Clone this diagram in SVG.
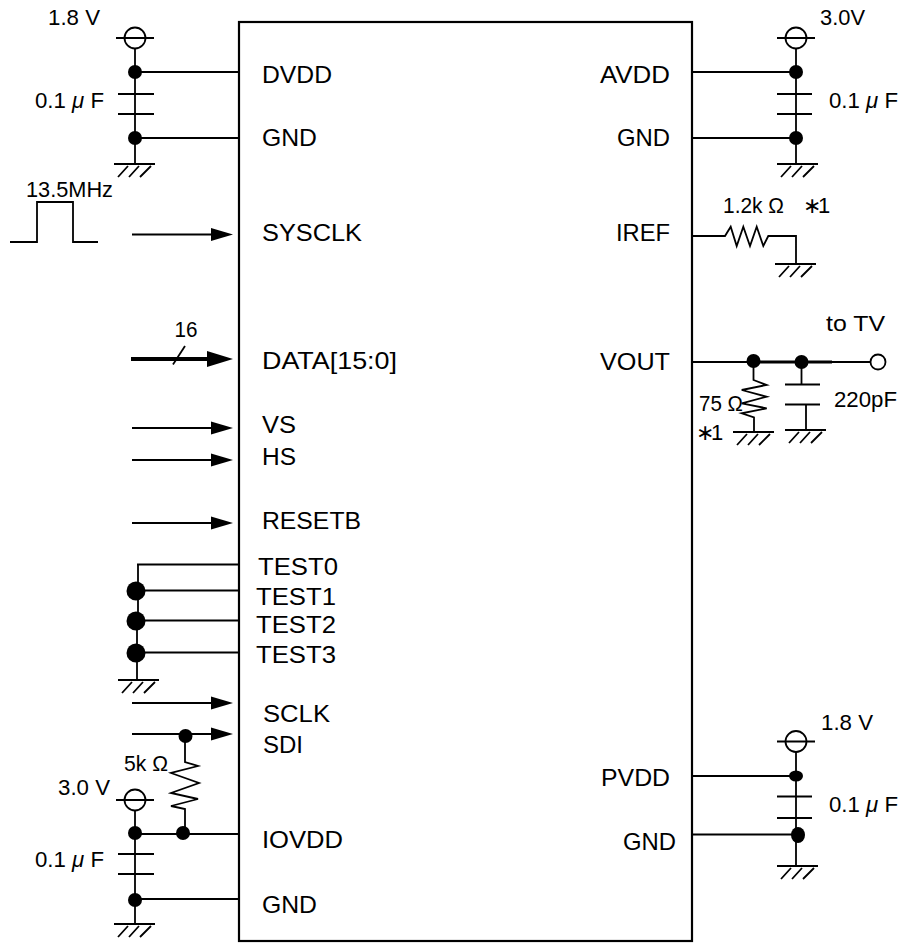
<svg xmlns="http://www.w3.org/2000/svg" width="901" height="943" viewBox="0 0 901 943">
<style>
text{font-family:"Liberation Sans",Arial,sans-serif;fill:#000}
.pin{font-size:24.5px}
.val{font-size:22px}
.star{letter-spacing:-3px}
.w{fill:none;stroke:#000;stroke-width:1.8}
.dot{fill:#000}
.o{fill:#fff;stroke:#000;stroke-width:1.8}
</style>
<defs>
<g id="gnd" class="w"><path d="M-21 0H20M-7 2L-17 13M4 2L-6 13M16 2L5 13"/></g>
<g id="vcc"><circle r="10.5" class="o"/><path class="w" d="M-19 0H19"/></g>
<marker id="ah" markerUnits="userSpaceOnUse" markerWidth="24" markerHeight="16" refX="1" refY="7.5" orient="auto"><path d="M0 1L22 7.5L0 14Z"/></marker>
<marker id="ahb" markerUnits="userSpaceOnUse" markerWidth="28" markerHeight="18" refX="1" refY="8.5" orient="auto"><path d="M0 0.500L26 8.500L0 16.500Z"/></marker>
</defs>
<g id="connectors">
<path class="w" d="M135 48V164M135 72H239M135 138H239"/>
<path class="w" d="M796 48V164M692 72H796M692 138H796"/>
<path class="w" d="M692 236H725L730.7 226.7L736.7 246L743.3 226.7L750 246L756.7 226.7L763.3 246L768.3 236H796V264"/>
<path class="w" d="M692 362H870"/>
<path class="w" style="stroke-width:3" d="M753 362H832"/>
<path class="w" d="M753.500 362V380L766.700 385L741.700 390L766.700 396.700L741.700 403.300L766.700 408.300L741.700 413.300L754 417.300V432"/>
<path class="w" d="M801.500 362V384M806 405V430"/>
<path class="w" d="M132 234.500H212" marker-end="url(#ah)"/>
<path class="w" style="stroke-width:4" d="M131 359H208" marker-end="url(#ahb)"/>
<path class="w" d="M173 364.500L185 346"/>
<path class="w" d="M132 428H212" marker-end="url(#ah)"/>
<path class="w" d="M132 460H212" marker-end="url(#ah)"/>
<path class="w" d="M132 523H212" marker-end="url(#ah)"/>
<path class="w" d="M132 703H212" marker-end="url(#ah)"/>
<path class="w" d="M132 734H212" marker-end="url(#ah)"/>
<path class="w" d="M137 564.500H239M138 564.500V620M137 620V680M145 590.500H239M145 620.500H239M145 652.500H239"/>
<path class="w" d="M185 736V762L198 766L171 773L199 783L171 793L198 799L171 806L185 809V833"/>
<path class="w" d="M135 810V924M135 834H239M135 899H239"/>
<path class="w" d="M796 752V866M692 776H796M692 834.500H796"/>
<path class="w" d="M10 242H37V202H73V242H98"/>
</g>
<g id="chip">
<rect x="239" y="22" width="453" height="919" fill="none" stroke="#000" stroke-width="2.200"/>
<text class="pin" x="262" y="83" textLength="70" lengthAdjust="spacingAndGlyphs">DVDD</text>
<text class="pin" x="262" y="146" textLength="55" lengthAdjust="spacingAndGlyphs">GND</text>
<text class="pin" x="262" y="241" textLength="100" lengthAdjust="spacingAndGlyphs">SYSCLK</text>
<text class="pin" x="262" y="369" textLength="135" lengthAdjust="spacingAndGlyphs">DATA[15:0]</text>
<text class="pin" x="262" y="433" textLength="34" lengthAdjust="spacingAndGlyphs">VS</text>
<text class="pin" x="262" y="465" textLength="34" lengthAdjust="spacingAndGlyphs">HS</text>
<text class="pin" x="262" y="529" textLength="99" lengthAdjust="spacingAndGlyphs">RESETB</text>
<text class="pin" x="258" y="575" textLength="80" lengthAdjust="spacingAndGlyphs">TEST0</text>
<text class="pin" x="256" y="605" textLength="80" lengthAdjust="spacingAndGlyphs">TEST1</text>
<text class="pin" x="256" y="633" textLength="80" lengthAdjust="spacingAndGlyphs">TEST2</text>
<text class="pin" x="256" y="663" textLength="80" lengthAdjust="spacingAndGlyphs">TEST3</text>
<text class="pin" x="263" y="722" textLength="67" lengthAdjust="spacingAndGlyphs">SCLK</text>
<text class="pin" x="263" y="753" textLength="40" lengthAdjust="spacingAndGlyphs">SDI</text>
<text class="pin" x="262" y="848" textLength="81" lengthAdjust="spacingAndGlyphs">IOVDD</text>
<text class="pin" x="262" y="913" textLength="55" lengthAdjust="spacingAndGlyphs">GND</text>
<text class="pin" x="600" y="83" textLength="70" lengthAdjust="spacingAndGlyphs">AVDD</text>
<text class="pin" x="617" y="146" textLength="53" lengthAdjust="spacingAndGlyphs">GND</text>
<text class="pin" x="616" y="241" textLength="54" lengthAdjust="spacingAndGlyphs">IREF</text>
<text class="pin" x="600" y="370" textLength="70" lengthAdjust="spacingAndGlyphs">VOUT</text>
<text class="pin" x="601" y="786" textLength="69" lengthAdjust="spacingAndGlyphs">PVDD</text>
<text class="pin" x="623" y="850" textLength="53" lengthAdjust="spacingAndGlyphs">GND</text>
</g>
<g id="dvdd-supply">
<use href="#vcc" x="135" y="38"/><circle class="dot" cx="135" cy="72" r="7"/><path class="w" d="M118 94H154M118 114H154"/><circle class="dot" cx="135" cy="138" r="7"/><use href="#gnd" x="135" y="164"/>
<text class="val" x="48" y="25" textLength="52" lengthAdjust="spacingAndGlyphs">1.8 V</text>
<text class="val" x="35" y="108" textLength="69" lengthAdjust="spacingAndGlyphs">0.1 <tspan font-style="italic">μ</tspan> F</text>
</g>
<g id="avdd-supply">
<use href="#vcc" x="796" y="38"/><circle class="dot" cx="796" cy="72" r="7"/><path class="w" d="M777 94H812M777 114H812"/><circle class="dot" cx="796" cy="138" r="7"/><use href="#gnd" x="798" y="164"/>
<text class="val" x="820" y="25" textLength="45" lengthAdjust="spacingAndGlyphs">3.0V</text>
<text class="val" x="829" y="108" textLength="69" lengthAdjust="spacingAndGlyphs">0.1 <tspan font-style="italic">μ</tspan> F</text>
</g>
<g id="sysclk-source"><text class="val" x="26" y="197" textLength="87" lengthAdjust="spacingAndGlyphs">13.5MHz</text></g>
<g id="iref-resistor">
<use href="#gnd" x="796" y="264"/>
<text class="val" x="723" y="213" textLength="61" lengthAdjust="spacingAndGlyphs">1.2k Ω</text><text class="val star" x="803" y="213">∗1</text>
</g>
<g id="vout-network">
<circle class="dot" cx="753.500" cy="361" r="7"/><circle class="dot" cx="801.500" cy="362" r="7"/>
<circle class="o" cx="878" cy="362" r="7.500"/>
<path class="w" d="M785 384.500H820M785 404.500H820"/>
<use href="#gnd" x="754" y="432"/><use href="#gnd" x="806" y="430"/>
<text class="val" x="826" y="331" textLength="59" lengthAdjust="spacingAndGlyphs">to TV</text>
<text class="val" x="834" y="407" textLength="63" lengthAdjust="spacingAndGlyphs">220pF</text>
<text class="val" x="699" y="411" textLength="44" lengthAdjust="spacingAndGlyphs">75 Ω</text>
<text class="val star" x="696" y="440">∗1</text>
</g>
<g id="data-width"><text class="val" x="174.500" y="337" textLength="23" lengthAdjust="spacingAndGlyphs">16</text></g>
<g id="test-ties">
<circle class="dot" cx="136" cy="591" r="9.500"/><circle class="dot" cx="136" cy="621" r="9.500"/><circle class="dot" cx="136" cy="653" r="9.500"/>
<use href="#gnd" x="139" y="680"/>
</g>
<g id="sdi-pullup">
<circle class="dot" cx="185.500" cy="736" r="7"/><circle class="dot" cx="183" cy="833" r="7"/>
<text class="val" x="124" y="771" textLength="44" lengthAdjust="spacingAndGlyphs">5k Ω</text>
</g>
<g id="iovdd-supply">
<use href="#vcc" x="135" y="800"/><circle class="dot" cx="135" cy="833" r="7"/><path class="w" d="M118 854H154M118 874H154"/><circle class="dot" cx="135" cy="900" r="7"/><use href="#gnd" x="135" y="924"/>
<text class="val" x="58" y="795" textLength="52" lengthAdjust="spacingAndGlyphs">3.0 V</text>
<text class="val" x="35" y="867" textLength="69" lengthAdjust="spacingAndGlyphs">0.1 <tspan font-style="italic">μ</tspan> F</text>
</g>
<g id="pvdd-supply">
<use href="#vcc" x="796" y="741.500"/><ellipse class="dot" cx="796" cy="776" rx="7" ry="5.500"/><path class="w" d="M777 796.500H812M777 818H812"/><ellipse class="dot" cx="798" cy="835" rx="7" ry="8"/><use href="#gnd" x="798" y="866"/>
<text class="val" x="821" y="730" textLength="52" lengthAdjust="spacingAndGlyphs">1.8 V</text>
<text class="val" x="829" y="812" textLength="69" lengthAdjust="spacingAndGlyphs">0.1 <tspan font-style="italic">μ</tspan> F</text>
</g>
</svg>
